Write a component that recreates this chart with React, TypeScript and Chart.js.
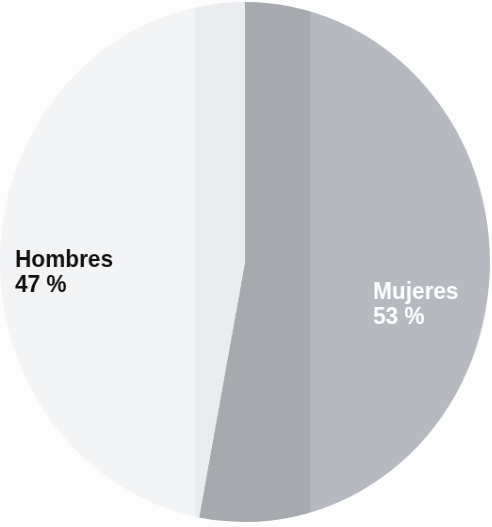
import React, { useEffect, useRef } from "react";
import { Chart, registerables } from "chart.js";

Chart.register(...registerables);

const categories = ["Mujeres", "Hombres"];
const values = [53, 47];

const SIZE = 520;
const SCALE_X = 0.942;

export default function App() {
  const ref = useRef<HTMLCanvasElement>(null);

  useEffect(() => {
    const canvas = ref.current!;
    const ctx = canvas.getContext("2d")!;

    const mujeresGrad = ctx.createLinearGradient(0, 0, SIZE, 0);
    mujeresGrad.addColorStop(0, "#a6a9ae");
    mujeresGrad.addColorStop(0.633, "#a6a9ae");
    mujeresGrad.addColorStop(0.634, "#b6bac0");
    mujeresGrad.addColorStop(1, "#b6bac0");

    const hombresGrad = ctx.createLinearGradient(0, 0, SIZE, 0);
    hombresGrad.addColorStop(0, "#f3f4f6");
    hombresGrad.addColorStop(0.398, "#f3f4f6");
    hombresGrad.addColorStop(0.399, "#ebecef");
    hombresGrad.addColorStop(1, "#ebecef");

    const labelPlugin = {
      id: "sliceLabels",
      afterDatasetsDraw(chart: any) {
        const c = chart.ctx as CanvasRenderingContext2D;
        const pos = [
          { x: 396, y: 297, color: "#ffffff" },
          { x: 16, y: 265, color: "#111111" },
        ];
        c.save();
        c.font = "bold 24px 'Liberation Sans', Arial, sans-serif";
        c.textAlign = "left";
        c.textBaseline = "alphabetic";
        categories.forEach((name, i) => {
          c.fillStyle = pos[i].color;
          c.fillText(name, pos[i].x, pos[i].y);
          c.fillText(`${values[i]} %`, pos[i].x, pos[i].y + 25);
        });
        c.restore();
      },
    };

    const chart = new Chart(canvas, {
      type: "pie",
      data: {
        labels: categories,
        datasets: [
          {
            data: values,
            backgroundColor: [mujeresGrad, hombresGrad],
            borderWidth: 0,
            hoverOffset: 0,
            offset: 0,
          },
        ],
      },
      options: {
        responsive: false,
        animation: false,
        layout: { padding: 0 },
        plugins: {
          legend: { display: false },
          tooltip: { enabled: false },
        },
      },
      plugins: [labelPlugin],
    });
    return () => chart.destroy();
  }, []);

  return (
    <div
      style={{
        position: "fixed",
        left: 0,
        top: 0,
        width: 492,
        height: 527,
        background: "#fdfdfd",
        overflow: "hidden",
      }}
    >
      <div
        style={{
          position: "absolute",
          left: 0,
          top: 2,
          width: SIZE,
          height: SIZE,
          transform: `scaleX(${SCALE_X})`,
          transformOrigin: "0 0",
        }}
      >
        <canvas ref={ref} width={SIZE} height={SIZE} />
      </div>
    </div>
  );
}
